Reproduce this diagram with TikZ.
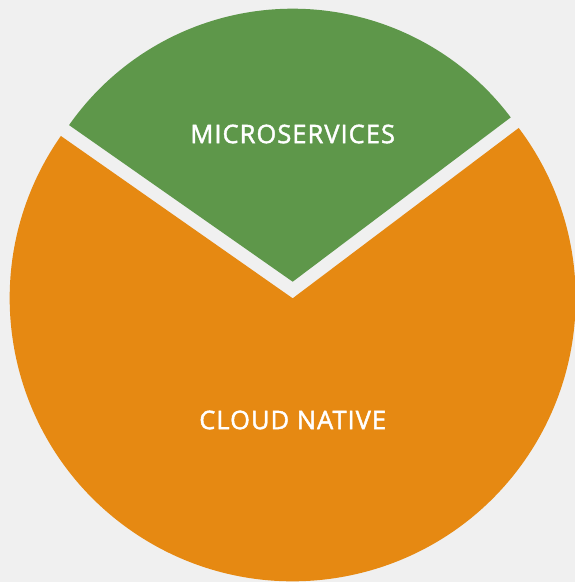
\documentclass[tikz,border=0pt]{standalone}
\usepackage{fontspec}
\newfontfamily\slicefont{Open Sans}[LetterSpace=4, FakeBold=1.6]
\usepackage{tikz}
\definecolor{bgc}{HTML}{F0F0F0}
\definecolor{greenc}{HTML}{5E974A}
\definecolor{orangec}{HTML}{E68912}
\tikzset{slicetext/.style={text=white, font=\slicefont\fontsize{25.5}{25.5}\selectfont}}

\begin{document}
\begin{tikzpicture}[x=1pt, y=1pt]
\fill[bgc] (0,0) rectangle (575,582);
\useasboundingbox (0,0) rectangle (575,582);
\coordinate (oc) at (292.7,283.7);
\coordinate (gc) at (292.7,300.3);

\fill[orangec] (oc) -- ++(145:283) arc[start angle=145, end angle=397, radius=283] -- cycle;
\fill[greenc] (gc) -- ++(37:273) arc[start angle=37, end angle=145, radius=273] -- cycle;

\node[slicetext] (micro) at (292.7,448) {MICROSERVICES};
\node[slicetext] (cloud) at (292.7,162) {CLOUD NATIVE};
\end{tikzpicture}
\end{document}
